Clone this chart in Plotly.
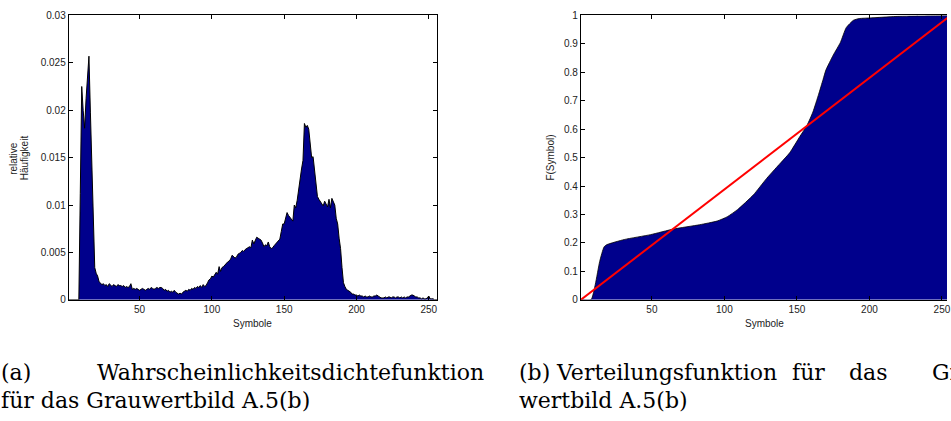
import plotly.graph_objects as go

# ---------------- data ----------------
symbols = list(range(1, 257))
pdf_values = [
    0, 0, 0, 0, 0, 0, 0, 0, 0.0112, 0.0225,
    0.0200, 0.0181, 0.0212, 0.0232, 0.0257, 0.0198, 0.0140, 0.0081, 0.0034, 0.0028,
    0.0025, 0.0019, 0.0017, 0.0016, 0.0017, 0.0015, 0.0016, 0.0014, 0.0017, 0.0015,
    0.0014, 0.0016, 0.0015, 0.0014, 0.0016, 0.0015, 0.0015, 0.0014, 0.0015, 0.0013,
    0.0014, 0.0013, 0.0014, 0.0017, 0.0011, 0.0012, 0.0011, 0.0012, 0.0011, 0.0010,
    0.0011, 0.0012, 0.0011, 0.0010, 0.0011, 0.0012, 0.0011, 0.0013, 0.0012, 0.0011,
    0.0012, 0.0013, 0.0012, 0.0013, 0.0013, 0.0012, 0.0010, 0.0011, 0.0009, 0.0010,
    0.0008, 0.0009, 0.0008, 0.0010, 0.0008, 0.0007, 0.0006, 0.0007, 0.0006, 0.0008,
    0.0009, 0.0010, 0.0009, 0.0011, 0.0010, 0.0012, 0.0011, 0.0013, 0.0012, 0.0014,
    0.0013, 0.0015, 0.0013, 0.0016, 0.0014, 0.0015, 0.0018, 0.0021, 0.0022, 0.0025,
    0.0024, 0.0027, 0.0029, 0.0027, 0.0035, 0.0030, 0.0034, 0.0035, 0.0037, 0.0038,
    0.0040, 0.0041, 0.0043, 0.0047, 0.0045, 0.0044, 0.0045, 0.0048, 0.0049, 0.0050,
    0.0052, 0.0051, 0.0053, 0.0054, 0.0055, 0.0056, 0.0055, 0.0063, 0.0059, 0.0062,
    0.0066, 0.0065, 0.0064, 0.0063, 0.0060, 0.0056, 0.0058, 0.0057, 0.0061, 0.0056,
    0.0054, 0.0055, 0.0057, 0.0059, 0.0060, 0.0062, 0.0064, 0.0072, 0.0080, 0.0080,
    0.0088, 0.0092, 0.0089, 0.0087, 0.0085, 0.0083, 0.0100, 0.0097, 0.0105, 0.0118,
    0.0130, 0.0138, 0.0147, 0.0186, 0.0182, 0.0184, 0.0180, 0.0165, 0.0150, 0.0151,
    0.0135, 0.0120, 0.0109, 0.0106, 0.0104, 0.0101, 0.0099, 0.0104, 0.0101, 0.0098,
    0.0106, 0.0097, 0.0107, 0.0103, 0.0100, 0.0086, 0.0080, 0.0065, 0.0054, 0.0034,
    0.0018, 0.0014, 0.0011, 0.0010, 0.0009, 0.0008, 0.0006, 0.0006, 0.0005, 0.0005,
    0.0004, 0.0005, 0.0004, 0.0004, 0.0003, 0.0004, 0.0003, 0.0003, 0.0004, 0.0003,
    0.0003, 0.0004, 0.0004, 0.0005, 0.0004, 0.0003, 0.0002, 0.0002, 0.0002, 0.0003,
    0.0002, 0.0003, 0.0003, 0.0002, 0.0003, 0.0003, 0.0002, 0.0003, 0.0003, 0.0002,
    0.0003, 0.0002, 0.0003, 0.0002, 0.0003, 0.0003, 0.0004, 0.0005, 0.0005, 0.0004,
    0.0003, 0.0003, 0.0002, 0.0002, 0.0001, 0.0002, 0.0001, 0.0001, 0.0002, 0.0004,
    0.0001, 0.0001, 0.0001, 0, 0, 0,
]

cdf_x = [1, 8, 11, 14, 17, 19, 31, 49, 65, 83, 95, 102, 109, 120, 129, 136, 145,
         152, 157, 161, 165, 168, 170, 175, 180, 184, 189, 193, 200, 221, 244, 256]
cdf_y = [0, 0, 0.055, 0.135, 0.186, 0.194, 0.212, 0.229, 0.249, 0.264, 0.277,
         0.292, 0.317, 0.369, 0.426, 0.466, 0.517, 0.574, 0.614, 0.660, 0.723,
         0.774, 0.808, 0.860, 0.905, 0.957, 0.983, 0.989, 0.991, 0.997, 0.999, 1.0]

uniform_x = [1, 256]
uniform_y = [0, 1]

x_ticks = [50, 100, 150, 200, 250]
pdf_ticks = [0, 0.005, 0.01, 0.015, 0.02, 0.025, 0.03]
pdf_tick_text = ["0", "0.005", "0.01", "0.015", "0.02", "0.025", "0.03"]
cdf_ticks = [0, 0.1, 0.2, 0.3, 0.4, 0.5, 0.6, 0.7, 0.8, 0.9, 1]
cdf_tick_text = ["0", "0.1", "0.2", "0.3", "0.4", "0.5", "0.6", "0.7", "0.8", "0.9", "1"]

# ---------------- layout helpers ----------------
W, H = 951, 421
def px(x):
    return x / W
def py(y):
    return 1 - y / H

NAVY = "rgb(0,0,140)"
SANS = "Liberation Sans, Arial, Helvetica, sans-serif"
SERIF = "DejaVu Serif, serif"

fig = go.Figure()

fig.add_trace(go.Scatter(
    x=symbols, y=pdf_values, mode="lines", fill="tozeroy",
    fillcolor=NAVY, line=dict(color="black", width=1),
    xaxis="x", yaxis="y", showlegend=False, hoverinfo="skip"))

fig.add_trace(go.Scatter(
    x=cdf_x, y=cdf_y, mode="lines", fill="tozeroy",
    fillcolor=NAVY, line=dict(color="black", width=0.8, shape="spline", smoothing=0.5),
    xaxis="x2", yaxis="y2", showlegend=False, hoverinfo="skip"))

fig.add_trace(go.Scatter(
    x=uniform_x, y=uniform_y, mode="lines",
    line=dict(color="rgb(255,0,0)", width=2),
    xaxis="x2", yaxis="y2", showlegend=False, hoverinfo="skip"))

axis_common = dict(
    showgrid=False, zeroline=False, showline=True, linecolor="black", linewidth=1,
    ticks="inside", ticklen=4, tickcolor="black", tickwidth=1,
    tickfont=dict(family=SANS, size=10, color="#222"),
    ticklabeloverflow="allow",
)

fig.update_layout(
    width=W, height=H,
    margin=dict(l=0, r=0, t=0, b=0),
    paper_bgcolor="white", plot_bgcolor="white",
    xaxis=dict(domain=[px(69), px(439.3)], range=[1, 256], tickvals=x_ticks,
               mirror="ticks", anchor="y", **axis_common),
    yaxis=dict(domain=[py(302.7), py(10.7)], range=[0, 0.03], tickvals=pdf_ticks,
               ticktext=pdf_tick_text, mirror="ticks", anchor="x", **axis_common),
    xaxis2=dict(domain=[px(583.3), 1.0], range=[1, 253.5], tickvals=x_ticks,
                mirror="ticks", anchor="y2", **axis_common),
    yaxis2=dict(domain=[py(302.7), py(10.7)], range=[0, 1], tickvals=cdf_ticks,
                ticktext=cdf_tick_text, mirror=False, anchor="x2", **axis_common),
)

annotations = []
def label(text, x, y, size=10, angle=0, xanchor="center", yanchor="middle", family=SANS, color="#222"):
    annotations.append(dict(
        text=text, x=px(x), y=py(y), xref="paper", yref="paper",
        xanchor=xanchor, yanchor=yanchor, showarrow=False, textangle=angle,
        font=dict(family=family, size=size, color=color)))

# axis titles
label("Symbole", 254, 327)
label("Symbole", 768, 327)
label("relative", 14, 157, angle=-90)
label("Häufigkeit", 25.5, 157, angle=-90)
label("F(Symbol)", 553, 157, angle=-90)

# captions (justified first lines: words placed individually)
CAP = 22
BLK = "black"
label("(a)", -1, 377, size=CAP, xanchor="left", family=SERIF, color=BLK)
label("Wahrscheinlichkeitsdichtefunktion", 488, 377, size=CAP, xanchor="right", family=SERIF, color=BLK)
label("für das Grauwertbild A.5(b)", -1, 406, size=CAP, xanchor="left", family=SERIF, color=BLK)
label("(b)", 519, 377, size=CAP, xanchor="left", family=SERIF, color=BLK)
label("Verteilungsfunktion", 556, 377, size=CAP, xanchor="left", family=SERIF, color=BLK)
label("für", 793, 377, size=CAP, xanchor="left", family=SERIF, color=BLK)
label("das", 851, 377, size=CAP, xanchor="left", family=SERIF, color=BLK)
label("Grau-", 934, 377, size=CAP, xanchor="left", family=SERIF, color=BLK)
label("wertbild A.5(b)", 519, 406, size=CAP, xanchor="left", family=SERIF, color=BLK)

fig.update_layout(annotations=annotations)

fig.write_html("out.html", config={"displayModeBar": False},
               post_script="document.body.style.margin='0px';")
